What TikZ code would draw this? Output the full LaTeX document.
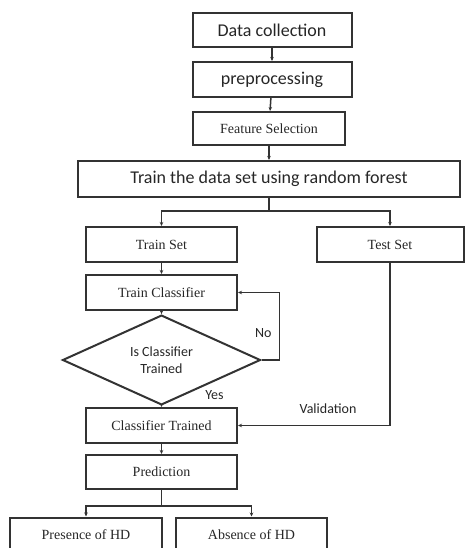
\documentclass[tikz,border=0pt]{standalone}
\usepackage{fontspec}
\setmainfont{Liberation Serif}
\newfontfamily\calfont{Carlito}
\usetikzlibrary{positioning, shapes.geometric, arrows.meta}

\begin{document}
\begin{tikzpicture}[x=1pt,y=-1pt,on grid,
		>={Stealth[length=4pt,width=3.5pt]},
		line/.style={draw=black!80, line width=1.5pt},
		box/.style={draw=black!80, line width=2pt, rectangle, text=black!85,
			minimum width=151pt, minimum height=35pt, inner sep=2pt, font=\fontsize{14}{17}\selectfont},
		sbox/.style={box, font=\calfont\fontsize{18}{21}\selectfont},
		decision/.style={draw=black!80, line width=2pt, diamond, text=black!85, align=center,
			minimum width=198pt, minimum height=70pt, inner sep=0pt, font=\calfont\fontsize{14}{17}\selectfont},
		lbl/.style={text=black!85, font=\calfont\fontsize{14}{17}\selectfont}]
	\useasboundingbox (0,0) rectangle (465,548);

	\node[sbox, minimum width=159pt, minimum height=34pt] 	(dc) 	at (272,30) 			{Data collection};
	\node[sbox, minimum width=159pt] 	(prep) 	[below=49.5pt of dc] 		{preprocessing};
	\node[box, minimum width=152pt, minimum height=33pt] 	(fs) 	[below=49pt of prep, xshift=-3pt] 	{Feature Selection};
	\node[sbox, minimum width=382pt, minimum height=36pt] 	(rf) 	[below=50.5pt of fs] 		{Train the data set using random forest};
	\node[box] 		(ts) 	[below left=65.5pt and 107.5pt of rf] 	{Train Set};
	\node[box, minimum width=147pt] 	(tes) 	[below right=65.5pt and 121pt of rf] 	{Test Set};
	\node[box] 		(tc) 	[below=48pt of ts] 		{Train Classifier};
	\node[decision] 	(dia) 	[below=67.5pt of tc] 		{Is Classifier\\Trained};
	\node[box] 		(ct) 	[below=65.5pt of dia] 		{Classifier Trained};
	\node[box, minimum height=34pt] 	(pred) 	[below=46.5pt of ct] 		{Prediction};
	\node[box, minimum width=152pt] 	(pres) 	[below left=63pt and 75.5pt of pred] 	{Presence of HD};
	\node[box] 		(abs) 	[below right=63pt and 90pt of pred] 	{Absence of HD};

	\path[line,->]
		(dc) 	edge 	(prep)
		(prep) 	edge 	(fs)
		(ts) 	edge 	(tc)
		(tc) 	edge 	(dia)
		(ct) 	edge 	(pred);
	\draw[line,->] (fs.south) -- (fs.south |- rf.north);
	\draw[line,->] (rf.south) -- ++(0,-13pt) -| (ts.north);
	\draw[line,->] (rf.south) -- ++(0,-13pt) -| (tes.north);
	\draw[line,->] (dia.south) -- node[lbl, pos=0, xshift=53pt, yshift=11pt] {Yes} (ct.north);
	\draw[line,->] (dia.east) -- ++(18pt,0) |- node[lbl, pos=0.25, left, xshift=-4pt, yshift=-7pt] {No} (tc.east);
	\draw[line,->] (tes.south) |- node[lbl, pos=0.75, above, xshift=14pt, yshift=8pt] {Validation} (ct.east);
	\draw[line,->] (pred.south) -- ++(0,-16pt) -| (pres.north);
	\draw[line,->] (pred.south) -- ++(0,-16pt) -| (abs.north);
\end{tikzpicture}
\end{document}
